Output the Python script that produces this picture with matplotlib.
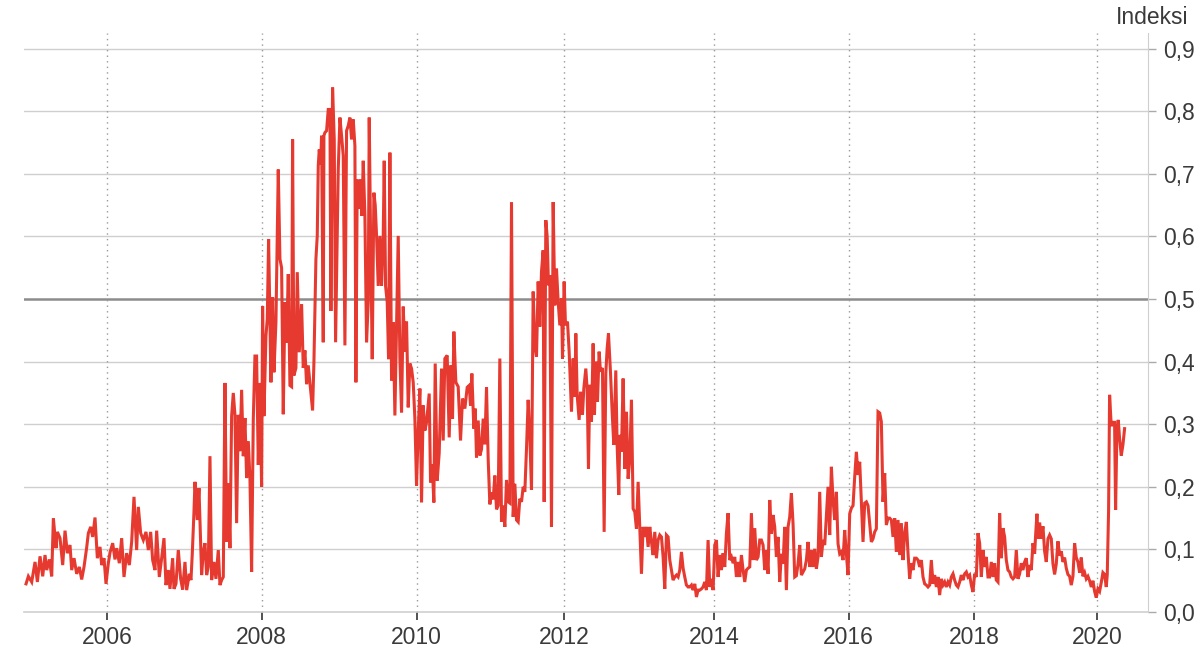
import numpy as np
import matplotlib.pyplot as plt

plt.rcParams['font.family'] = ['Liberation Sans', 'DejaVu Sans']

# weekly observation number and index value, split by period
pos_2005 = [0.0, 1.4, 3.4, 5.4, 6.8, 8.4, 10.0, 11.4, 12.4, 14.0, 15.4, 16.4, 18.0, 18.8, 20.4,
            22.0, 23.4, 24.8, 26.4, 27.4, 28.8, 30.4, 32.0, 33.4, 34.8, 36.4, 37.4, 38.8, 40.0,
            41.4, 42.8, 44.4, 45.4, 46.8, 48.0, 49.4, 50.4, 52.0, 53.4, 54.4, 56.0, 57.4, 58.8,
            60.4, 62.0, 63.4, 64.8, 66.4, 67.4, 68.8, 70.4, 72.0, 73.4, 74.8, 76.0, 77.4, 78.4,
            80.0, 81.4, 82.8, 84.0, 85.4, 86.4, 88.0, 88.8, 90.0, 91.4, 92.8, 94.0, 95.4, 96.4,
            98.0, 99.0, 99.8, 100.8, 101.4, 102.8, 103.8, 105.4, 106.4, 107.4, 108.4, 109.4,
            110.4, 111.4, 112.8, 114.0, 115.4, 116.4, 117.4, 118.4]
val_2005 = [0.045, 0.057, 0.048, 0.080, 0.048, 0.089, 0.057, 0.091, 0.067, 0.084, 0.057, 0.150,
            0.102, 0.128, 0.118, 0.075, 0.130, 0.094, 0.107, 0.067, 0.086, 0.061, 0.072, 0.052,
            0.072, 0.103, 0.126, 0.136, 0.120, 0.151, 0.086, 0.104, 0.075, 0.086, 0.045, 0.078,
            0.095, 0.110, 0.084, 0.102, 0.078, 0.118, 0.056, 0.094, 0.075, 0.112, 0.184, 0.099,
            0.168, 0.126, 0.115, 0.128, 0.099, 0.128, 0.083, 0.067, 0.130, 0.056, 0.086, 0.118,
            0.043, 0.067, 0.037, 0.086, 0.037, 0.045, 0.099, 0.053, 0.036, 0.080, 0.035, 0.061,
            0.051, 0.094, 0.160, 0.208, 0.147, 0.198, 0.059, 0.096, 0.110, 0.059, 0.072, 0.249,
            0.051, 0.080, 0.053, 0.099, 0.043, 0.051, 0.056]

pos_2007 = [119.4, 120.4, 121.4, 122.4, 123.4, 124.4, 125.4, 126.4, 127.4, 128.4, 129.4, 130.4,
            131.4, 132.4, 133.4, 134.4, 135.4, 136.4, 137.4, 138.4, 139.4, 140.4, 141.4, 142.0,
            142.8, 144.0, 144.8, 145.6, 147.0, 148.0, 148.8, 150.0, 151.4, 152.4, 153.4, 154.4,
            155.4, 156.4, 157.4, 158.4, 159.4, 160.0, 160.8, 162.0, 162.8, 164.0, 165.4, 166.4,
            167.4, 168.4, 169.4, 170.4, 172.0, 172.8, 174.0, 174.8, 175.4, 176.0, 176.8, 177.4,
            178.4, 178.8, 179.4, 180.4, 181.4, 182.4, 183.0, 184.0, 185.0, 185.8, 187.4, 188.4,
            189.4, 190.4, 191.4, 192.4, 193.4, 194.4, 195.4, 196.4, 197.4, 198.0, 198.8, 200.0,
            200.8, 201.6, 202.4, 203.4, 204.4, 205.4, 206.0, 206.8, 207.8, 208.8, 209.6, 210.4,
            211.4, 212.4, 213.4, 214.4, 215.0, 215.8, 216.8, 217.6, 218.4, 219.4, 220.4, 221.4,
            222.4, 223.4]
val_2007 = [0.366, 0.112, 0.206, 0.102, 0.313, 0.350, 0.315, 0.142, 0.315, 0.257, 0.355, 0.249,
            0.310, 0.214, 0.273, 0.214, 0.064, 0.307, 0.409, 0.409, 0.235, 0.366, 0.200, 0.489,
            0.313, 0.441, 0.468, 0.596, 0.367, 0.503, 0.383, 0.463, 0.707, 0.564, 0.550, 0.316,
            0.495, 0.430, 0.540, 0.362, 0.360, 0.755, 0.378, 0.390, 0.543, 0.415, 0.492, 0.390,
            0.418, 0.364, 0.394, 0.367, 0.322, 0.399, 0.564, 0.601, 0.713, 0.739, 0.715, 0.761,
            0.431, 0.761, 0.766, 0.769, 0.803, 0.803, 0.481, 0.838, 0.755, 0.431, 0.707, 0.790,
            0.761, 0.729, 0.426, 0.769, 0.777, 0.790, 0.755, 0.787, 0.745, 0.367, 0.691, 0.644,
            0.691, 0.633, 0.721, 0.633, 0.431, 0.495, 0.790, 0.601, 0.404, 0.670, 0.650, 0.601,
            0.521, 0.601, 0.521, 0.601, 0.721, 0.521, 0.495, 0.404, 0.734, 0.370, 0.463, 0.314,
            0.457, 0.601]

pos_2010 = [224.4, 225.4, 226.4, 227.4, 228.4, 229.4, 230.4, 231.4, 232.4, 233.4, 234.4, 235.4,
            236.4, 237.4, 238.4, 239.4, 240.4, 242.0, 242.8, 243.8, 244.8, 245.6, 246.8, 248.0,
            249.4, 250.4, 251.4, 252.8, 254.0, 255.0, 256.0, 256.8, 258.0, 259.4, 260.8, 262.0,
            263.4, 264.8, 266.0, 266.8, 267.6, 268.8, 269.6, 270.4, 271.4, 272.4, 273.4, 274.4,
            275.4, 276.4, 277.4, 278.4, 279.4, 280.4, 281.4, 282.4, 283.4, 284.4, 285.4, 286.4,
            287.4, 288.4, 289.4, 290.4, 291.4, 292.4, 293.4, 294.4, 295.4, 296.4, 297.4, 298.4,
            299.4, 300.4, 301.4, 302.4, 303.4, 304.4, 305.4, 306.4, 307.4, 308.4, 309.4, 310.4,
            311.0, 312.0, 312.8, 313.6, 314.4, 315.4, 316.4, 317.4, 318.4, 319.4, 320.4, 321.4,
            322.0, 323.0, 323.8, 325.0, 326.0, 327.4, 328.4, 329.4, 330.0, 330.8, 332.0, 332.8,
            334.0, 334.8, 336.0, 336.8, 337.6, 338.4, 339.4, 340.4, 341.2, 342.0, 343.0, 344.0,
            344.8, 346.0, 347.0, 348.0, 348.8, 349.6, 350.8, 351.8, 352.8, 354.0, 354.8, 355.8,
            356.4, 357.4, 358.4, 359.4, 360.4, 361.4, 362.4, 363.4, 364.4, 365.4, 366.4, 367.4]
val_2010 = [0.405, 0.319, 0.488, 0.416, 0.464, 0.327, 0.397, 0.389, 0.367, 0.309, 0.202, 0.290,
            0.357, 0.175, 0.330, 0.290, 0.303, 0.349, 0.207, 0.236, 0.175, 0.397, 0.210, 0.254,
            0.389, 0.274, 0.405, 0.410, 0.279, 0.394, 0.309, 0.448, 0.367, 0.360, 0.274, 0.341,
            0.325, 0.359, 0.362, 0.330, 0.381, 0.293, 0.325, 0.247, 0.306, 0.250, 0.260, 0.309,
            0.268, 0.359, 0.244, 0.172, 0.191, 0.180, 0.218, 0.164, 0.170, 0.405, 0.144, 0.170,
            0.136, 0.211, 0.176, 0.174, 0.655, 0.152, 0.205, 0.147, 0.144, 0.181, 0.176, 0.200,
            0.192, 0.261, 0.339, 0.280, 0.195, 0.512, 0.426, 0.408, 0.528, 0.456, 0.544, 0.578,
            0.176, 0.626, 0.600, 0.522, 0.538, 0.136, 0.655, 0.490, 0.549, 0.496, 0.458, 0.501,
            0.405, 0.528, 0.458, 0.464, 0.416, 0.320, 0.405, 0.344, 0.445, 0.347, 0.307, 0.352,
            0.315, 0.357, 0.389, 0.357, 0.229, 0.363, 0.304, 0.429, 0.315, 0.400, 0.336, 0.416,
            0.384, 0.390, 0.128, 0.381, 0.421, 0.445, 0.384, 0.320, 0.267, 0.386, 0.267, 0.187,
            0.283, 0.256, 0.373, 0.229, 0.320, 0.213, 0.245, 0.339, 0.165, 0.160, 0.133, 0.208]

pos_2013 = [369.4, 370.4, 371.4, 372.4, 373.4, 374.4, 375.4, 376.4, 377.4, 378.4, 379.4, 380.4,
            381.4, 382.4, 383.4, 384.4, 385.4, 386.4, 387.4, 388.4, 389.4, 390.4, 391.4, 392.4,
            393.4, 394.4, 395.4, 396.4, 397.4, 398.4, 399.4, 400.4, 401.4, 402.4, 403.4, 404.4,
            405.4, 406.4, 407.4, 408.4, 409.4, 410.4, 411.4, 412.4, 413.4, 414.4, 415.4, 416.4,
            417.4, 418.4, 419.4, 420.4, 421.4, 422.4, 423.4, 424.4, 425.4, 426.4, 427.4, 428.4,
            429.4, 430.4, 431.4, 432.4, 433.4, 434.4, 435.4, 436.4, 437.4, 438.4, 439.4, 440.4,
            441.4, 442.4, 443.4, 444.4, 445.4, 446.4]
val_2013 = [0.061, 0.136, 0.120, 0.136, 0.104, 0.136, 0.112, 0.091, 0.128, 0.086, 0.115, 0.123,
            0.120, 0.088, 0.037, 0.123, 0.120, 0.083, 0.067, 0.051, 0.056, 0.059, 0.056, 0.067,
            0.096, 0.070, 0.056, 0.043, 0.040, 0.040, 0.043, 0.035, 0.045, 0.024, 0.035, 0.035,
            0.037, 0.040, 0.048, 0.035, 0.115, 0.040, 0.053, 0.035, 0.107, 0.115, 0.056, 0.091,
            0.067, 0.094, 0.072, 0.126, 0.158, 0.083, 0.088, 0.078, 0.088, 0.056, 0.080, 0.056,
            0.091, 0.067, 0.048, 0.067, 0.070, 0.072, 0.158, 0.083, 0.134, 0.083, 0.088, 0.115,
            0.115, 0.107, 0.067, 0.099, 0.061, 0.179]

pos_2015 = [447.4, 448.4, 449.4, 450.4, 451.4, 452.4, 453.4, 454.4, 455.4, 456.4, 457.4, 458.4,
            459.4, 460.4, 461.4, 462.4, 463.4, 464.4, 465.4, 466.4, 467.4, 468.4, 469.4, 470.4,
            471.4, 472.4, 473.4, 474.4, 475.4, 476.4, 477.4, 478.4, 479.4, 480.4, 481.4, 482.4,
            483.4, 484.4, 485.4, 486.4, 487.4, 488.4, 489.4, 490.4, 491.4, 492.4, 493.4, 494.4,
            495.4, 496.4, 497.4, 498.4, 499.4, 500.4, 501.4, 502.4, 503.4, 504.4, 505.4, 506.4,
            507.4, 508.4, 509.4, 510.4, 511.4, 512.4, 513.4, 514.4, 515.4, 516.4, 517.4, 518.4]
val_2015 = [0.125, 0.155, 0.136, 0.088, 0.120, 0.048, 0.093, 0.077, 0.136, 0.035, 0.136, 0.152,
            0.190, 0.141, 0.056, 0.058, 0.077, 0.107, 0.059, 0.064, 0.069, 0.083, 0.112, 0.072,
            0.099, 0.072, 0.101, 0.069, 0.088, 0.192, 0.088, 0.115, 0.107, 0.155, 0.200, 0.123,
            0.232, 0.179, 0.147, 0.192, 0.109, 0.093, 0.096, 0.083, 0.131, 0.093, 0.059, 0.157,
            0.166, 0.170, 0.216, 0.256, 0.219, 0.240, 0.174, 0.112, 0.174, 0.176, 0.170, 0.141,
            0.112, 0.117, 0.128, 0.133, 0.320, 0.318, 0.304, 0.176, 0.222, 0.139, 0.150, 0.150]

pos_2017 = [519.4, 520.4, 521.4, 522.4, 523.4, 524.4, 525.4, 526.4, 527.4, 528.4, 529.4, 530.4,
            531.4, 532.4, 533.4, 534.4, 535.4, 536.4, 537.4, 538.4, 539.4, 540.4, 541.4, 542.4,
            543.4, 544.4, 545.4, 546.4, 547.4, 548.4, 549.4, 550.4, 551.4, 552.4, 553.4, 554.4,
            555.4, 556.4, 557.4, 558.4, 559.4, 560.4, 561.4, 562.4, 563.4, 564.4, 565.4, 566.4,
            567.4, 568.4, 569.4, 570.4, 571.4, 572.4, 573.4, 574.4, 575.4, 576.4, 577.4, 578.4,
            579.4, 580.4, 581.4, 582.4, 583.4, 584.4, 585.4, 586.4, 587.4, 588.4, 589.4, 590.4,
            591.4, 592.4, 593.4, 594.4, 595.4, 596.4, 597.4, 598.4, 599.4, 600.4, 601.4, 602.4,
            603.4]
val_2017 = [0.147, 0.120, 0.150, 0.096, 0.147, 0.091, 0.142, 0.083, 0.126, 0.144, 0.094, 0.053,
            0.078, 0.067, 0.086, 0.086, 0.083, 0.072, 0.083, 0.056, 0.045, 0.043, 0.040, 0.043,
            0.083, 0.045, 0.059, 0.040, 0.056, 0.027, 0.053, 0.043, 0.048, 0.040, 0.048, 0.043,
            0.056, 0.061, 0.051, 0.043, 0.040, 0.048, 0.059, 0.051, 0.061, 0.064, 0.056, 0.059,
            0.043, 0.032, 0.061, 0.056, 0.126, 0.110, 0.056, 0.099, 0.072, 0.088, 0.056, 0.056,
            0.080, 0.056, 0.078, 0.051, 0.048, 0.158, 0.086, 0.134, 0.120, 0.083, 0.067, 0.064,
            0.056, 0.053, 0.056, 0.099, 0.053, 0.061, 0.078, 0.067, 0.080, 0.086, 0.056, 0.075,
            0.067]

pos_2019 = [604.4, 605.4, 606.0, 606.8, 607.4, 608.4, 609.4, 610.4, 611.4, 612.4, 613.4, 614.4,
            615.4, 616.4, 617.4, 618.4, 619.4, 620.4, 621.4, 622.4, 623.4, 624.4, 625.4, 626.4,
            627.4, 628.4, 629.4, 630.4, 631.4, 632.4, 633.4, 634.4, 635.4, 636.4, 637.4, 638.4,
            639.4, 640.4, 641.4, 642.4, 643.4, 644.4, 645.4, 646.4, 647.4, 648.4, 649.0, 649.8,
            650.4, 651.4, 652.4, 653.4, 654.0, 654.8, 655.6, 656.4, 657.4, 658.4, 659.4]
val_2019 = [0.110, 0.093, 0.123, 0.157, 0.117, 0.143, 0.117, 0.137, 0.097, 0.080, 0.117, 0.123,
            0.117, 0.077, 0.060, 0.077, 0.113, 0.090, 0.097, 0.080, 0.087, 0.070, 0.060, 0.057,
            0.043, 0.057, 0.110, 0.087, 0.080, 0.063, 0.087, 0.057, 0.063, 0.053, 0.057, 0.050,
            0.040, 0.050, 0.033, 0.023, 0.037, 0.033, 0.047, 0.063, 0.060, 0.040, 0.060, 0.163,
            0.347, 0.297, 0.303, 0.303, 0.163, 0.290, 0.307, 0.277, 0.250, 0.267, 0.293]

# first observation of each labelled year
year_labels = ['2006', '2008', '2010', '2012', '2014', '2016', '2018', '2020']
year_pos = [48.8, 141.4, 234.4, 323.0, 412.8, 493.8, 569.0, 643.0]
y_ticks = [0.0, 0.1, 0.2, 0.3, 0.4, 0.5, 0.6, 0.7, 0.8, 0.9]

pos = np.array(pos_2005 + pos_2007 + pos_2010 + pos_2013 + pos_2015 + pos_2017 + pos_2019)
vals = np.array(val_2005 + val_2007 + val_2010 + val_2013 + val_2015 + val_2017 + val_2019)

fig = plt.figure(figsize=(12.02, 6.49), dpi=100)
ax = fig.add_axes([0.020, 0.057, 0.935, 0.892])

text_col = '#3a3a3a'
for y in y_ticks:
    if y == 0.5:
        ax.axhline(y, color='#8c8c8c', lw=1.8, zorder=1)
    elif y > 0:
        ax.axhline(y, color='#cfcfcf', lw=1.0, zorder=1)
for x in year_pos:
    ax.axvline(x, color='#999999', lw=1.0, ls=(0, (1, 3)), zorder=1)

ax.plot(pos, vals, color='#e63a30', lw=2.2, zorder=3, solid_joinstyle='miter')

ax.set_xlim(-1.2, 673.4)
ax.set_ylim(0, 0.925)

ax.yaxis.tick_right()
ax.set_yticks(y_ticks)
ax.set_yticklabels([f'{v:.1f}'.replace('.', ',') for v in y_ticks])
ax.set_xticks(year_pos)
ax.set_xticklabels(year_labels)

for s in ['top', 'left']:
    ax.spines[s].set_visible(False)
ax.spines['right'].set_color('#cfcfcf')
ax.spines['bottom'].set_color('#cfcfcf')
ax.spines['bottom'].set_linewidth(1.2)

ax.tick_params(axis='y', length=6, width=1, color='#aaaaaa', pad=5,
               labelsize=16.5, labelcolor=text_col)
ax.tick_params(axis='x', length=6, width=1.2, color='#333333', pad=4,
               labelsize=16.5, labelcolor=text_col)

ax.text(1.0356, 1.0155, 'Indeksi', transform=ax.transAxes, ha='right', va='baseline',
        fontsize=16.5, color=text_col)

fig.savefig('out.png', dpi=100)
